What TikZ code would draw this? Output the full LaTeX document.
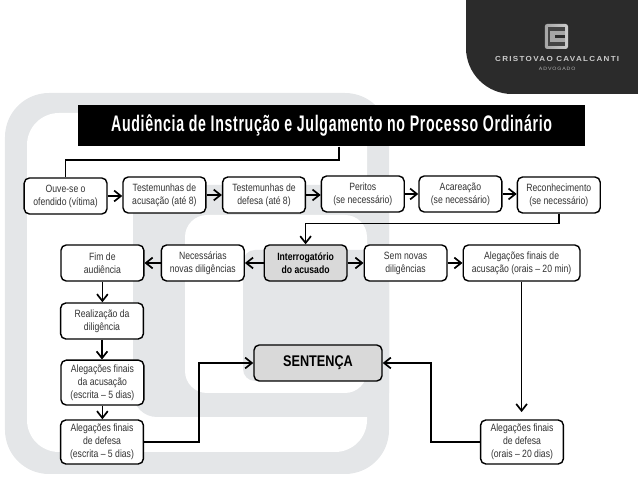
\documentclass[tikz,border=0pt]{standalone}
\usepackage{xcolor}
\usepackage{fontspec}
\usetikzlibrary{arrows.meta}
\setmainfont{Liberation Sans}[FakeStretch=0.82]
\newfontfamily\bannerfont{Liberation Sans}[FakeStretch=0.63,LetterSpace=3,BoldFont={Liberation Sans Bold}]
\newfontfamily\firmfont{Liberation Sans}[LetterSpace=18,FakeStretch=1.1,BoldFont={Liberation Sans Bold}]
\definecolor{CCBack}{HTML}{E4E6E8}
\definecolor{CCDark}{HTML}{2B2B2B}
\definecolor{CCKey}{HTML}{D9D9D9}
\definecolor{CCText}{HTML}{333333}
\tikzset{
  >={Straight Barb[length=1.7mm,width=2.7mm]},
  flowbox/.style={draw=black,fill=white,line width=0.035cm,rounded corners=0.13cm,
    minimum width=2.07cm,minimum height=0.9cm,inner sep=0pt,align=center,
    text=CCText,font=\fontsize{7.5}{9.2}\selectfont},
  keybox/.style={flowbox,fill=CCKey,text=black},
  flowline/.style={draw=black,line width=0.042cm,->},
  flowplain/.style={draw=black,line width=0.042cm}
}
\begin{document}
\begin{tikzpicture}[x=1cm,y=1cm]
\path[use as bounding box] (0,0) rectangle (15.95,11.975);
% background
\fill[CCBack,rounded corners=1.1cm] (0.125,9.65) rectangle (9.725,0.125);
\fill[white,rounded corners=0.8cm] (0.675,9.15) rectangle (9.175,0.675);
\fill[CCBack,rounded corners=0.6cm] (3.325,7.35) rectangle (9.725,1.55);
\fill[white,rounded corners=0.55cm] (4.625,6.6) rectangle (9.175,2.15);
\fill[CCBack,rounded corners=0.3cm] (6.075,5.725) rectangle (9.725,2.45);
% firm block
\fill[CCDark] (15.95,11.975) -- (11.65,11.975) [rounded corners=1.15cm] -- (11.65,9.625) [sharp corners] -- (15.95,9.625) -- cycle;
\shade[left color=gray!70,right color=gray!40,rounded corners=0.06cm] (13.62,11.375) rectangle (14.20,10.75);
\fill[CCDark!70!gray] (13.69,11.30) rectangle (14.13,10.82);
\fill[gray!70] (13.76,11.19) rectangle (14.13,10.93);
\fill[CCDark] (13.88,11.10) rectangle (14.13,11.02);
\node[text=gray!40,font=\firmfont\bfseries\fontsize{5.2}{6}\selectfont,inner sep=0pt] (firm) at (13.93,10.50) {CRISTOVAO CAVALCANTI};
\node[text=gray!60,font=\firmfont\fontsize{3.4}{4}\selectfont,inner sep=0pt] (role) at (13.93,10.25) {ADVOGADO};
% title
\node[fill=black,text=white,minimum width=12.68cm,minimum height=1.03cm,inner sep=0pt,font=\bannerfont\bfseries\fontsize{16}{18}\selectfont] (banner) at (8.29,8.83) {Audiência de Instrução e Julgamento no Processo Ordinário};
% first row
\node[flowbox] (ouve) at (1.64,7.075) {Ouve-se o\\ofendido (vítima)};
\node[flowbox] (tacus) at (4.11,7.10) {Testemunhas de\\acusação (até 8)};
\node[flowbox] (tdef) at (6.60,7.10) {Testemunhas de\\defesa (até 8)};
\node[flowbox] (peritos) at (9.07,7.125) {Peritos\\(se necessário)};
\node[flowbox] (acar) at (11.51,7.125) {Acareação\\(se necessário)};
\node[flowbox] (recon) at (13.97,7.10) {Reconhecimento\\(se necessário)};
% second row
\node[flowbox] (fim) at (2.56,5.40) {Fim de\\audiência};
\node[flowbox] (neces) at (5.07,5.40) {Necessárias\\novas diligências};
\node[keybox,font=\fontsize{7.5}{9.2}\selectfont\bfseries] (interr) at (7.64,5.40) {Interrogatório\\do acusado};
\node[flowbox] (sem) at (10.14,5.40) {Sem novas\\diligências};
\node[flowbox,minimum width=2.92cm] (alacus) at (13.04,5.40) {Alegações finais de\\acusação (orais -- 20 min)};
% left column
\node[flowbox] (realiz) at (2.55,3.95) {Realização da\\diligência};
\node[flowbox,minimum height=1.12cm] (alesc) at (2.56,2.41) {Alegações finais\\da acusação\\(escrita -- 5 dias)};
\node[flowbox,minimum height=1.10cm] (defesc) at (2.55,0.925) {Alegações finais\\de defesa\\(escrita -- 5 dias)};
\node[keybox,minimum width=3.2cm,font=\fontsize{11}{13}\selectfont\bfseries] (sent) at (7.95,2.90) {SENTENÇA};
\node[flowbox,minimum height=1.10cm] (deforal) at (13.05,0.925) {Alegações finais\\de defesa\\(orais -- 20 dias)};
% connectors
\coordinate (bannerout) at (8.475,8.31);
\draw[flowplain] (bannerout) -- (8.475,7.98) -| (ouve.north);
\draw[flowline] (ouve.east) -- (ouve.east -| tacus.west);
\draw[flowline] (tacus.east) -- (tdef.west);
\draw[flowline] (tdef.east) -- (tdef.east -| peritos.west);
\draw[flowline] (peritos.east) -- (acar.west);
\draw[flowline] (acar.east) -- (acar.east -| recon.west);
\draw[flowline] (recon.south) -- (13.97,6.39) -| (interr.north);
\draw[flowline] (interr.west) -- (neces.east);
\draw[flowline] (neces.west) -- (fim.east);
\draw[flowline] (interr.east) -- (sem.west);
\draw[flowline] (sem.east) -- (alacus.west);
\draw[flowline] (fim.south) -- (realiz.north -| fim.south);
\draw[flowline] (realiz.south) -- (alesc.north -| realiz.south);
\draw[flowline] (alesc.south) -- (defesc.north -| alesc.south);
\draw[flowline,shorten >=0.18cm] (alacus.south) -- (deforal.north -| alacus.south);
\draw[flowline] (defesc.east) -- (4.975,0.925) |- (sent.west);
\draw[flowline] (deforal.west) -- (10.775,0.925) |- (sent.east);
\end{tikzpicture}
\end{document}
